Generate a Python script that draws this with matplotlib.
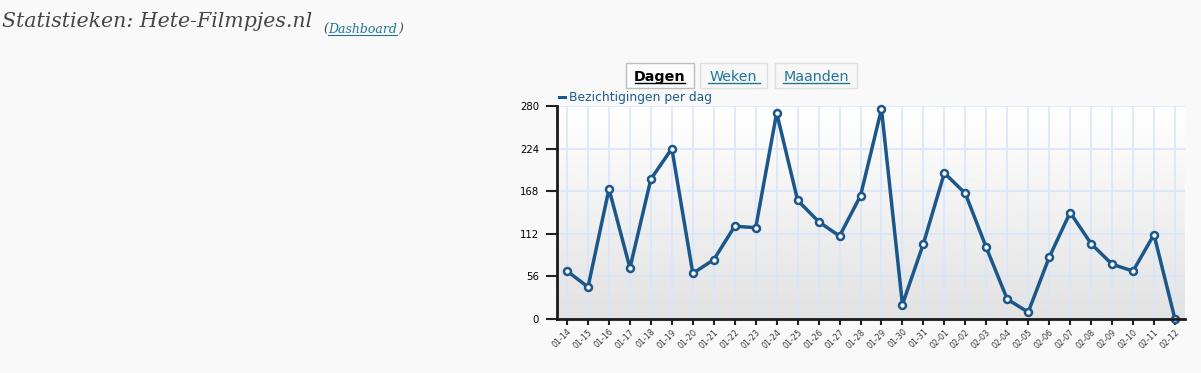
import matplotlib.pyplot as plt
import numpy as np
from matplotlib.patches import Rectangle

# data
dagen = ['01-14', '01-15', '01-16', '01-17', '01-18', '01-19', '01-20', '01-21',
         '01-22', '01-23', '01-24', '01-25', '01-26', '01-27', '01-28', '01-29',
         '01-30', '01-31', '02-01', '02-02', '02-03', '02-04', '02-05', '02-06',
         '02-07', '02-08', '02-09', '02-10', '02-11', '02-12']
bezichtigingen = [63, 42, 171, 67, 184, 224, 60, 78, 122, 120, 271, 156, 128, 109,
                  162, 276, 19, 99, 192, 165, 94, 26, 9, 81, 140, 99, 72, 63, 111, 0]
y_ticks = [0, 56, 112, 168, 224, 280]
tabs = ['Dagen', 'Weken', 'Maanden']

W, H = 1201, 373
bg = '#f9f9f9'
lijn = '#1b578a'
link = '#21759b'

fig = plt.figure(figsize=(W / 100, H / 100), dpi=100, facecolor=bg)


def px(x, y):
    # pixel coords (top-left origin) -> figure fraction
    return x / W, 1 - y / H


# titel
fig.text(*px(2, 27), 'Statistieken: Hete-Filmpjes.nl', family='DejaVu Serif',
         style='italic', fontsize=14.8, color='#464646', va='baseline')
fig.text(*px(323, 33), '(', family='DejaVu Serif', style='italic',
         fontsize=9, color='#464646', va='baseline')
fig.text(*px(328, 33), 'Dashboard', family='DejaVu Serif', style='italic',
         fontsize=9, color=link, va='baseline')
fig.text(*px(398, 33), ')', family='DejaVu Serif', style='italic',
         fontsize=9, color='#464646', va='baseline')
fig.add_artist(plt.Line2D([328 / W, 397 / W], [1 - 35 / H] * 2, color=link, lw=0.8))

# tabs
tab_box = [(626, 694), (700, 767), (775, 857)]
for naam, (x0, x1) in zip(tabs, tab_box):
    actief = naam == 'Dagen'
    fig.add_artist(Rectangle(px(x0, 88), (x1 - x0) / W, 25 / H,
                             transform=fig.transFigure,
                             facecolor='#fcfcfc' if actief else '#f7f7f7',
                             edgecolor='#bdbdbd' if actief else '#dedede', lw=1))
    cx = (x0 + x1) / 2
    fig.text(*px(cx, 81), naam, ha='center', va='baseline', fontsize=10.3,
             family='DejaVu Sans', color='black' if actief else link,
             weight='bold' if actief else 'normal')
    hw = {'Dagen': 25, 'Weken': 26, 'Maanden': 33}[naam]
    fig.add_artist(plt.Line2D([(cx - hw) / W, (cx + hw) / W], [1 - 83 / H] * 2,
                              color='black' if actief else link, lw=1))

# legenda
fig.add_artist(Rectangle(px(558, 98.5), 9 / W, 3 / H, transform=fig.transFigure,
                         facecolor=lijn, edgecolor='none'))
fig.text(*px(569, 97), 'Bezichtigingen per dag', fontsize=8.9, color='#1e5c8e',
         va='center', family='DejaVu Sans')

# grafiek
ax = fig.add_axes([557 / W, 1 - 319 / H, 628 / W, 213 / H])
x = np.arange(len(dagen))
ax.set_xlim(-0.48, len(dagen) - 0.52)
ax.set_ylim(0, 280)

grad = np.linspace(1.0, 0.885, 256).reshape(-1, 1)
ax.imshow(grad, extent=[-0.48, len(dagen) - 0.52, 0, 280], aspect='auto',
          cmap='gray', vmin=0, vmax=1, zorder=0, origin='upper')

for yt in y_ticks[1:]:
    ax.axhline(yt, color='#d8e6fc', lw=1.2, zorder=1)
for xi in x:
    ax.axvline(xi, color='#d8e6fc', lw=1.2, zorder=1)

ax.plot(x, bezichtigingen, color=lijn, lw=2.5, zorder=3, clip_on=False,
        marker='o', markersize=5, markerfacecolor='white',
        markeredgecolor=lijn, markeredgewidth=1.8)

ax.set_xticks(x)
ax.set_xticklabels(dagen, rotation=45, ha='right', rotation_mode='anchor',
                   fontsize=5.8, color='#3a3a3a')
ax.set_yticks(y_ticks)
ax.set_yticklabels([str(v) for v in y_ticks], fontsize=7.3, color='black')
ax.tick_params(axis='y', length=8, width=1.5, color='#222222', pad=5)
ax.tick_params(axis='x', length=4, width=1.5, color='#222222', pad=2)

for s in ['top', 'right']:
    ax.spines[s].set_visible(False)
for s in ['left', 'bottom']:
    ax.spines[s].set_linewidth(2)
    ax.spines[s].set_color('#1a1a1a')
    ax.spines[s].set_zorder(4)

fig.savefig('out.png', dpi=100, facecolor=bg)
